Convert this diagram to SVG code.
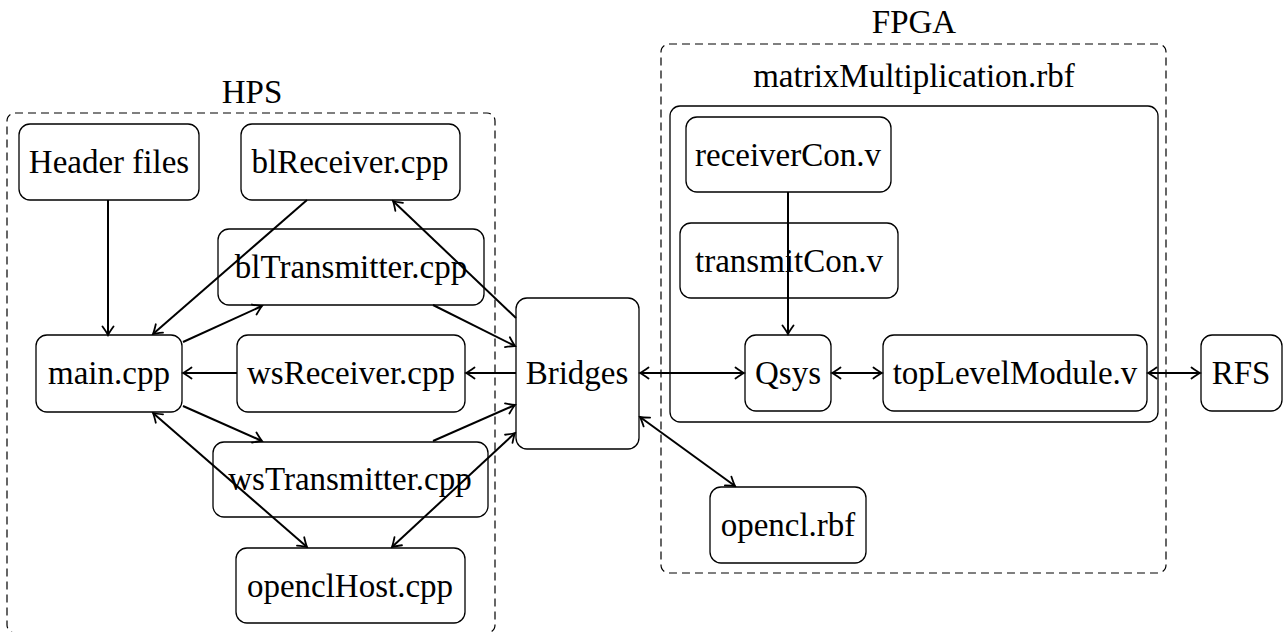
<svg xmlns="http://www.w3.org/2000/svg" width="1285" height="632" viewBox="0 0 1285 632">
<style>
.node{fill:none;stroke:#000;stroke-width:1.3}
.grp{fill:none;stroke:#000;stroke-width:1.2;stroke-dasharray:8 5}
.t{font-family:Liberation Serif,serif;font-size:33px;fill:#000;text-anchor:middle}
.c{stroke:#000;stroke-width:2;fill:none}
.e{marker-end:url(#ah)}
.b{marker-start:url(#ahs);marker-end:url(#ah)}
</style>
<defs>
<marker id="ah" viewBox="-10 -7 12 14" refX="0" refY="0" markerWidth="12" markerHeight="14" markerUnits="userSpaceOnUse" orient="auto">
<path d="M-8.5,-5.5 Q-2.5,-1.2 0,0 Q-2.5,1.2 -8.5,5.5" fill="none" stroke="#000" stroke-width="1.8" stroke-linecap="round"/>
</marker>
<marker id="ahs" viewBox="-10 -7 12 14" refX="0" refY="0" markerWidth="12" markerHeight="14" markerUnits="userSpaceOnUse" orient="auto-start-reverse">
<path d="M-8.5,-5.5 Q-2.5,-1.2 0,0 Q-2.5,1.2 -8.5,5.5" fill="none" stroke="#000" stroke-width="1.8" stroke-linecap="round"/>
</marker>
</defs>
<rect width="1285" height="632" fill="#fff"/>
<g id="HPS">
<rect class="grp" x="7" y="113" width="488" height="520" rx="8"/>
<text class="t" x="252" y="103" font-family="Liberation Serif">HPS</text>
</g>
<g id="FPGA">
<rect class="grp" x="661" y="44" width="505" height="529" rx="8"/>
<text class="t" x="914" y="33" font-family="Liberation Serif">FPGA</text>
</g>
<g id="matrixMultiplication">
<rect class="node" x="670" y="106" width="488" height="316" rx="10"/>
<text class="t" x="914" y="87" font-family="Liberation Serif">matrixMultiplication.rbf</text>
</g>
<g id="headerfiles"><rect class="node" x="19" y="124" width="180" height="76" rx="11"/><text class="t" x="109" y="173" font-family="Liberation Serif">Header files</text></g>
<g id="blReceiver"><rect class="node" x="241" y="124" width="219" height="76" rx="11"/><text class="t" x="350" y="173" font-family="Liberation Serif">blReceiver.cpp</text></g>
<g id="blTransmitter"><rect class="node" x="218" y="229" width="266" height="76" rx="11"/><text class="t" x="351" y="278" font-family="Liberation Serif">blTransmitter.cpp</text></g>
<g id="main"><rect class="node" x="36" y="335" width="146" height="77" rx="11"/><text class="t" x="109" y="384" font-family="Liberation Serif">main.cpp</text></g>
<g id="wsReceiver"><rect class="node" x="237" y="335" width="228" height="77" rx="11"/><text class="t" x="351" y="384" font-family="Liberation Serif">wsReceiver.cpp</text></g>
<g id="wsTransmitter"><rect class="node" x="213" y="442" width="275" height="75" rx="11"/><text class="t" x="350" y="490" font-family="Liberation Serif">wsTransmitter.cpp</text></g>
<g id="openclHost"><rect class="node" x="236" y="548" width="229" height="75" rx="11"/><text class="t" x="350" y="597" font-family="Liberation Serif">openclHost.cpp</text></g>
<g id="Bridges"><rect class="node" x="516" y="298" width="123" height="151" rx="11"/><text class="t" x="577" y="384" font-family="Liberation Serif">Bridges</text></g>
<g id="receiverCon"><rect class="node" x="686" y="117" width="205" height="75" rx="11"/><text class="t" x="788" y="166" font-family="Liberation Serif">receiverCon.v</text></g>
<g id="transmitCon"><rect class="node" x="680" y="223" width="218" height="75" rx="11"/><text class="t" x="789" y="272" font-family="Liberation Serif">transmitCon.v</text></g>
<g id="Qsys"><rect class="node" x="745" y="335" width="86" height="76" rx="11"/><text class="t" x="788" y="384" font-family="Liberation Serif">Qsys</text></g>
<g id="topLevelModule"><rect class="node" x="883" y="335" width="264" height="76" rx="11"/><text class="t" x="1015" y="384" font-family="Liberation Serif">topLevelModule.v</text></g>
<g id="RFS"><rect class="node" x="1201" y="335" width="81" height="76" rx="11"/><text class="t" x="1241" y="384" font-family="Liberation Serif">RFS</text></g>
<g id="opencl"><rect class="node" x="710" y="487" width="156" height="76" rx="11"/><text class="t" x="788" y="536" font-family="Liberation Serif">opencl.rbf</text></g>
<g id="connectors">
<line class="c e" x1="108" y1="200" x2="108" y2="335"/>
<line class="c e" x1="307" y1="200" x2="153" y2="334"/>
<line class="c e" x1="183" y1="342" x2="262" y2="306"/>
<line class="c e" x1="433" y1="305" x2="515" y2="346"/>
<line class="c e" x1="516" y1="318" x2="393" y2="201"/>
<line class="c e" x1="516" y1="373" x2="466" y2="373"/>
<line class="c e" x1="237" y1="373" x2="183" y2="373"/>
<line class="c e" x1="183" y1="406" x2="262" y2="441"/>
<line class="c e" x1="433" y1="441" x2="515" y2="405"/>
<line class="c b" x1="153" y1="413" x2="307" y2="547"/>
<line class="c b" x1="392" y1="547" x2="515" y2="433"/>
<line class="c b" x1="640" y1="373" x2="744" y2="373"/>
<line class="c b" x1="832" y1="373" x2="882" y2="373"/>
<line class="c b" x1="1148" y1="373" x2="1200" y2="373"/>
<line class="c b" x1="640" y1="417" x2="735" y2="486"/>
<line class="c e" x1="788" y1="192" x2="788" y2="334"/>
</g>
</svg>
